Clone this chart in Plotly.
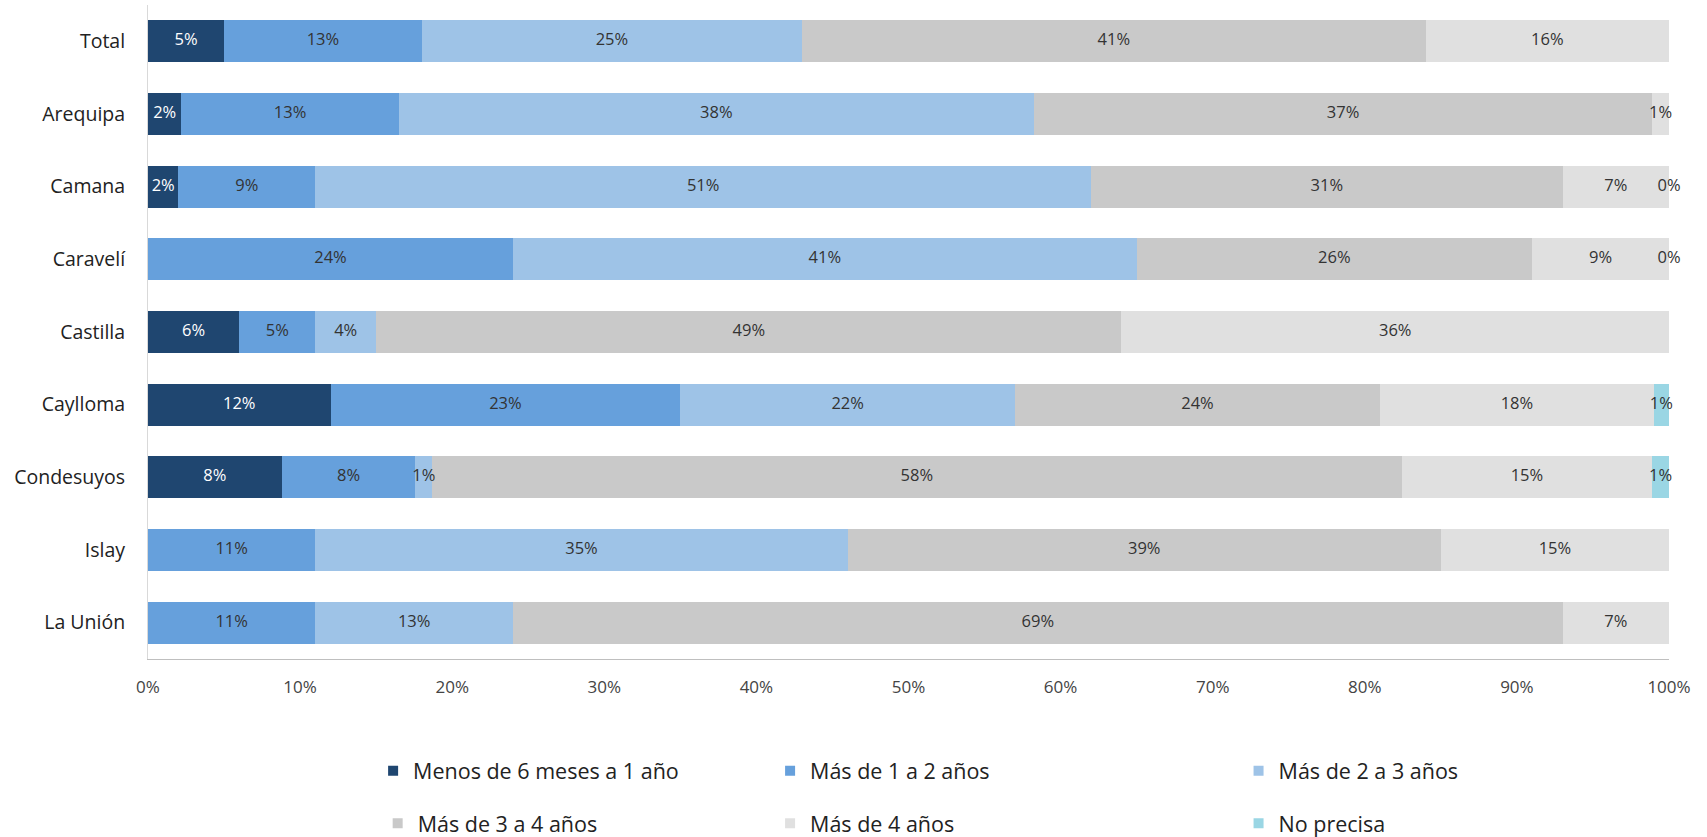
import plotly.graph_objects as go

categories = ["Total", "Arequipa", "Camana", "Caravelí", "Castilla", "Caylloma",
              "Condesuyos", "Islay", "La Unión"]

series_names = ["Menos de 6 meses a 1 año", "Más de 1 a 2 años", "Más de 2 a 3 años",
                "Más de 3 a 4 años", "Más de 4 años", "No precisa"]

menos_6m_1a = [5, 2, 2, None, 6, 12, 8, None, None]
mas_1_2 = [13, 13, 9, 24, 5, 23, 8, 11, 11]
mas_2_3 = [25, 38, 51, 41, 4, 22, 1, 35, 13]
mas_3_4 = [41, 37, 31, 26, 49, 24, 58, 39, 69]
mas_4 = [16, 1, 7, 9, 36, 18, 15, 15, 7]
no_precisa = [None, None, 0, 0, None, 1, 1, None, None]

series_values = [menos_6m_1a, mas_1_2, mas_2_3, mas_3_4, mas_4, no_precisa]
colors = ["#1F4670", "#66A0DC", "#9EC3E7", "#C9C9C9", "#E0E0E0", "#9AD6E4"]
text_colors = ["#FFFFFF", "#333333", "#333333", "#333333", "#333333", "#333333"]

FONT = "Open Sans"

# row totals (chart is a 100% stacked bar)
row_totals = [sum(s[i] or 0 for s in series_values) for i in range(len(categories))]

fig = go.Figure()
cum = [0.0] * len(categories)
label_traces = []
for name, vals, col, tcol in zip(series_names, series_values, colors, text_colors):
    pct = [((v or 0) / row_totals[i] * 100) for i, v in enumerate(vals)]
    fig.add_trace(go.Bar(
        y=categories, x=pct, orientation="h", name=name,
        marker=dict(color=col, line=dict(width=0)),
        showlegend=False, hoverinfo="skip",
    ))
    xs, ys, ts = [], [], []
    for i, v in enumerate(vals):
        if v is not None:
            xs.append(cum[i] + pct[i] / 2)
            ys.append(categories[i])
            ts.append(f"{v}%")
    label_traces.append(go.Scatter(
        x=xs, y=ys, text=ts, mode="text", showlegend=False, hoverinfo="skip",
        textfont=dict(family=FONT, size=16.5, color=tcol), cliponaxis=False,
    ))
    cum = [c + p for c, p in zip(cum, pct)]

for t in label_traces:
    fig.add_trace(t)

# legend entries (one legend per position, 3 columns x 2 rows)
legend_pos = [(0.148, -0.171), (0.409, -0.171), (0.717, -0.171),
              (0.151, -0.251), (0.409, -0.251), (0.717, -0.251)]
layout_legends = {}
for k, (name, col) in enumerate(zip(series_names, colors)):
    lname = "legend" if k == 0 else f"legend{k+1}"
    fig.add_trace(go.Scatter(
        x=[None], y=[None], mode="markers", name=name,
        marker=dict(symbol="square", size=10, color=col),
        legend=lname, showlegend=True,
    ))
    lx, ly = legend_pos[k]
    layout_legends[lname] = dict(
        x=lx, y=ly, xanchor="left", yanchor="middle", orientation="h",
        font=dict(family=FONT, size=21.5, color="#222222"),
        bgcolor="rgba(0,0,0,0)",
    )

fig.update_layout(
    barmode="stack",
    bargap=0.42,
    width=1707, height=837,
    margin=dict(l=148, r=38, t=5, b=178, autoexpand=False),
    plot_bgcolor="white", paper_bgcolor="white",
    font=dict(family=FONT, color="#333333"),
    **layout_legends,
)

fig.update_xaxes(
    range=[0, 100], tickvals=list(range(0, 101, 10)),
    ticktext=[f"{v}%" for v in range(0, 101, 10)],
    showgrid=False, zeroline=False,
    showline=True, linecolor="#BFBFBF", linewidth=1,
    tickfont=dict(family=FONT, size=17, color="#444444"),
    ticks="", ticklabelstandoff=13,
)
fig.update_yaxes(
    categoryorder="array", categoryarray=categories, autorange="reversed",
    showgrid=False, zeroline=False,
    showline=True, linecolor="#D9D9D9", linewidth=1,
    tickfont=dict(family=FONT, size=19.5, color="#222222"),
    ticks="", ticklabelstandoff=18,
)

fig.write_html("out.html", config={"displayModeBar": False},
               post_script="document.body.style.margin='0';")
